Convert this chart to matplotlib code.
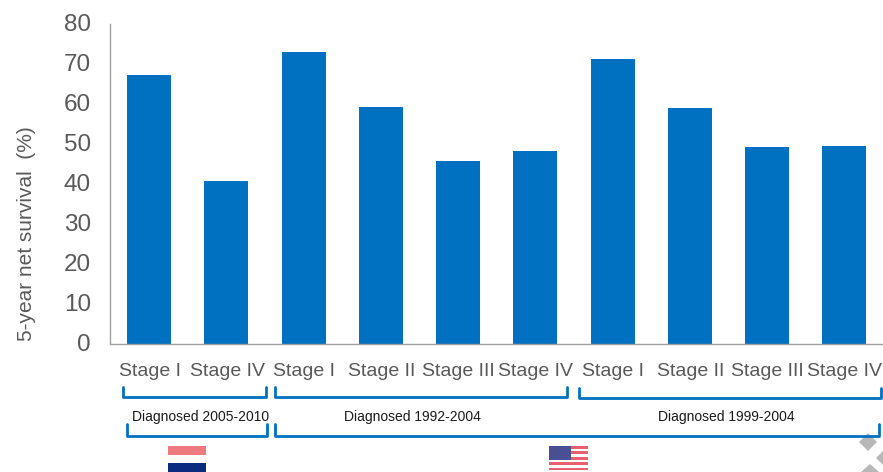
"""
Five-year net survival by stage, Netherlands vs two US cohorts.
Run: python3 plot.py  -> out.png
"""

import matplotlib
matplotlib.use("Agg")
import matplotlib.pyplot as plt
from matplotlib.patches import Polygon, Rectangle
from matplotlib.transforms import ScaledTranslation

W, H = 883, 472

BAR_CLR = "#0070C0"
TXT_CLR = "#595959"
AXIS_CLR = "#A0A0A0"
MARK_CLR = "#B8B8B8"

stages = ["Stage I", "Stage IV", "Stage I", "Stage II", "Stage III", "Stage IV",
          "Stage I", "Stage II", "Stage III", "Stage IV"]
survival = [67.1, 40.6, 72.9, 59.1, 45.6, 48.1, 71.1, 58.9, 49.1, 49.4]
y_ticks = [0, 10, 20, 30, 40, 50, 60, 70, 80]

plt.rcParams["font.family"] = ["Liberation Sans", "DejaVu Sans"]

fig = plt.figure(figsize=(W / 100, H / 100), dpi=100, facecolor="white")

# --- Bars ----------------------------------------------------------------
ax = fig.add_axes([110.5 / W, 1 - 343.5 / H, (883 - 110.5) / W, 320 / H])
ax.bar(range(len(survival)), survival, width=0.57, color=BAR_CLR)
ax.set_xlim(-0.5, 9.5)
ax.set_ylim(0, 80)
ax.set_yticks(y_ticks)
ax.set_xticks([])
ax.tick_params(axis="y", length=0, pad=14, labelsize=17.5, labelcolor=TXT_CLR)
# nudge the tick numbers up a little
nudge = ScaledTranslation(0, 1.0 / 100, fig.dpi_scale_trans)
for lbl in ax.get_yticklabels():
    lbl.set_transform(lbl.get_transform() + nudge)
for side in ("top", "right"):
    ax.spines[side].set_visible(False)
for side in ("left", "bottom"):
    ax.spines[side].set_color(AXIS_CLR)
    ax.spines[side].set_linewidth(1.0)

# Overlay in pixel coordinates for labels, brackets and flags
ov = fig.add_axes([0, 0, 1, 1], facecolor="none")
ov.set_xlim(0, W)
ov.set_ylim(H, 0)
ov.axis("off")

ov.text(27, 234, "5-year net survival  (%)", rotation=90, ha="center", va="center",
        fontsize=15, color=TXT_CLR)

for i, label in enumerate(stages):
    ov.text(150 + 77.2 * i, 372, label, ha="center", va="center",
            fontsize=14, color=TXT_CLR)


def bracket(x0, x1, top, bottom):
    ov.plot([x0, x0, x1, x1], [top, bottom, bottom, top], color=BAR_CLR, lw=2.0,
            solid_joinstyle="round", solid_capstyle="round", zorder=3)


bracket(123, 266, 387, 397)
bracket(275, 567, 387, 397)
bracket(579, 881, 388, 398)
bracket(127, 267, 424, 436)
bracket(275, 879, 424, 436)

ov.text(201, 417, "Diagnosed 2005-2010", ha="center", va="center", fontsize=10, color="#1A1A1A")
ov.text(412, 417, "Diagnosed 1992-2004", ha="center", va="center", fontsize=10, color="#1A1A1A")
ov.text(726, 417, "Diagnosed 1999-2004", ha="center", va="center", fontsize=10, color="#1A1A1A")

# Dutch flag
for y, h, clr in [(446, 9, "#EE7A80"), (455, 8, "#FFFFFF"), (463, 9, "#0B2A80")]:
    ov.add_patch(Rectangle((168, y), 38, h, fc=clr, ec="none"))

# US flag
ov.add_patch(Rectangle((549, 446), 39, 26, fc="#FFFFFF", ec="none"))
for k in range(5):
    ov.add_patch(Rectangle((549, 446 + k * 5.4), 39, 2.7, fc="#E8606F", ec="none"))
ov.add_patch(Rectangle((549, 446), 22, 14, fc="#4A4F94", ec="none"))

# Corner diamonds
ov.add_patch(Polygon([(868, 433), (877, 442), (868, 451), (859, 442)], fc=MARK_CLR, ec="none", zorder=1))
ov.add_patch(Polygon([(883, 451), (876, 458), (883, 465)], fc=MARK_CLR, ec="none", zorder=1))
ov.add_patch(Polygon([(861, 472), (870, 464), (879, 472)], fc=MARK_CLR, ec="none", zorder=1))

fig.savefig("out.png", dpi=100)
